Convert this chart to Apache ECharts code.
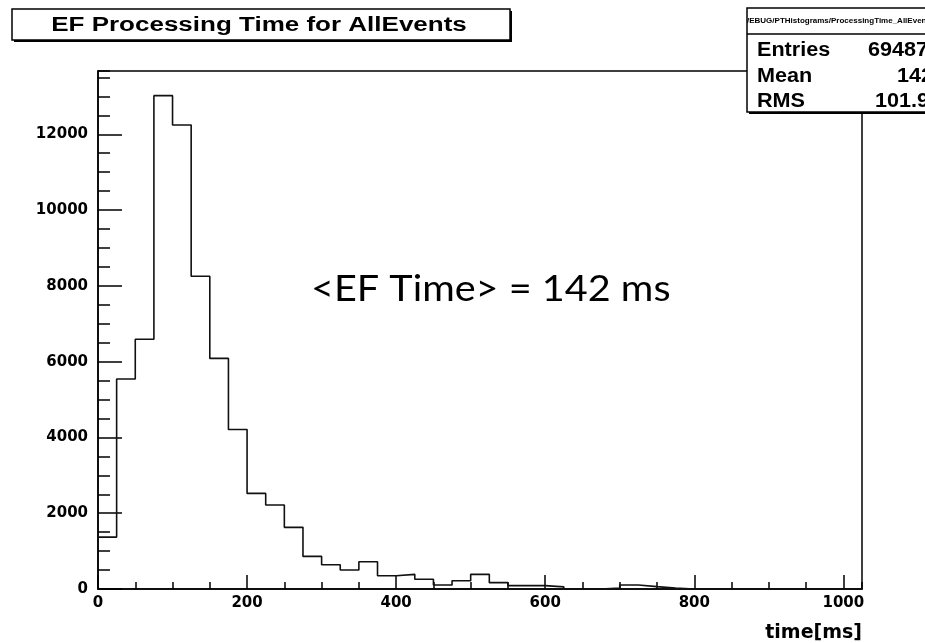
<!DOCTYPE html>
<html>
<head>
<meta charset="utf-8">
<title>EF Processing Time for AllEvents</title>
<script src="https://cdn.jsdelivr.net/npm/echarts@6/dist/echarts.min.js"></script>
<style>
  html, body { margin: 0; padding: 0; background: #fff; }
  #chart { width: 925px; height: 643px; }
</style>
</head>
<body>
<div id="chart"></div>
<script>
// histogram: 41 bins of 25 ms, from 0 to 1025 ms
const binWidth = 25
const binCounts = [
  1370, 5540, 6590, 13020, 12245, 8254, 6085, 4211, 2523, 2215,
  1627, 860, 640, 501, 720, 351, 387, 256, 106, 219,
  387, 167, 88, 88, 55, 0, 0, 22, 106, 62,
  22, 0, 0, 0, 0, 0, 0, 0, 0, 0,
  0,
]
const xMax = binCounts.length * binWidth
const yMax = 13670

// tick steps (major / minor)
const xMajorStep = 200
const xMinorStep = 50
const yMajorStep = 2000
const yMinorStep = 500

// text
const titleText = 'EF Processing Time for AllEvents'
const xAxisName = 'time[ms]'
const noteText = '<EF Time> = 142 ms'
const statsPath = '/EBUG/PTHistograms/ProcessingTime_AllEvents'
const statsLabels = ['Entries', 'Mean', 'RMS']
const statsValues = ['69487', '142', '101.9']

const ROOT_FONT = '"Liberation Sans", Arial, sans-serif'
const LABEL_FONT = '"DejaVu Sans", sans-serif'

// step points: left edge of every bin, plus closing right edge
const histData = binCounts.map((v, i) => [i * binWidth, v])
histData.push([xMax, binCounts[binCounts.length - 1]])

const chart = echarts.init(document.getElementById('chart'), null, { renderer: 'canvas' })

const statsRowY = [50, 76, 101]
const statsValueX = [868, 897, 875]

const graphic = [
  // title box with ROOT-style drop shadow
  { type: 'rect', z: 100, shape: { x: 14, y: 11, width: 498, height: 31 }, style: { fill: '#000' } },
  { type: 'rect', z: 101, shape: { x: 12, y: 9, width: 498, height: 31 }, style: { fill: '#fff', stroke: '#000', lineWidth: 1.5 } },
  {
    type: 'text', z: 102, x: 259, y: 25, scaleX: 1.3,
    style: { text: titleText, align: 'center', verticalAlign: 'middle', font: 'bold 20px ' + ROOT_FONT, fill: '#000' },
  },
  // stats box
  { type: 'rect', z: 100, shape: { x: 749, y: 10, width: 200, height: 104 }, style: { fill: '#000' } },
  { type: 'rect', z: 101, shape: { x: 747, y: 8, width: 200, height: 104 }, style: { fill: '#fff', stroke: '#000', lineWidth: 1.5 } },
  { type: 'line', z: 102, shape: { x1: 747, y1: 34, x2: 947, y2: 34 }, style: { stroke: '#000', lineWidth: 1.5 } },
  {
    type: 'text', z: 102, x: 747, y: 21,
    style: { text: statsPath, align: 'left', verticalAlign: 'middle', font: 'bold 8px ' + ROOT_FONT, fill: '#000' },
  },
  // annotation
  {
    type: 'text', z: 102, x: 311, y: 289, scaleX: 1.1,
    style: { text: noteText, align: 'left', verticalAlign: 'middle', font: '36px Lato, sans-serif', fill: '#000' },
  },
]

statsLabels.forEach((label, i) => {
  graphic.push({
    type: 'text', z: 102, x: 757, y: statsRowY[i], scaleX: 1.08,
    style: { text: label, align: 'left', verticalAlign: 'middle', font: 'bold 20px ' + ROOT_FONT, fill: '#000' },
  })
  graphic.push({
    type: 'text', z: 102, x: statsValueX[i], y: statsRowY[i], scaleX: 1.08,
    style: { text: statsValues[i], align: 'left', verticalAlign: 'middle', font: 'bold 20px ' + ROOT_FONT, fill: '#000' },
  })
})

const axisText = {
  color: '#000', fontFamily: LABEL_FONT, fontWeight: 'bold', fontSize: 15,
  formatter: (v) => String(v),
}

chart.setOption({
  animation: false,
  backgroundColor: '#fff',
  grid: {
    left: 98, right: 63, top: 71, bottom: 54,
    containLabel: false,
    outerBoundsMode: 'none',
    show: true,
    borderColor: '#000',
    borderWidth: 1.5,
    backgroundColor: 'transparent',
  },
  xAxis: [
    {
      type: 'value', min: 0, max: xMax, interval: xMajorStep,
      position: 'bottom',
      name: xAxisName,
      nameLocation: 'end',
      nameGap: 0,
      nameTextStyle: {
        color: '#000', fontFamily: LABEL_FONT, fontWeight: 'bold', fontSize: 19,
        align: 'right', verticalAlign: 'top', padding: [35, 0, 0, 0],
      },
      axisLine: { show: true, onZero: false, lineStyle: { color: '#000', width: 1.5 } },
      axisTick: { show: true, inside: true, length: 14, lineStyle: { color: '#000', width: 1.5 } },
      minorTick: { show: false },
      axisLabel: { ...axisText, margin: 7, showMaxLabel: false },
      splitLine: { show: false },
    },
    {
      // minor ticks only
      type: 'value', min: 0, max: xMax, interval: xMinorStep,
      position: 'bottom', offset: 0,
      axisLine: { show: false },
      axisTick: { show: true, inside: true, length: 7, lineStyle: { color: '#000', width: 1.5 } },
      axisLabel: { show: false },
      splitLine: { show: false },
    },
  ],
  yAxis: [
    {
      type: 'value', min: 0, max: yMax, interval: yMajorStep,
      position: 'left',
      axisLine: { show: true, onZero: false, lineStyle: { color: '#000', width: 1.5 } },
      axisTick: { show: true, inside: true, length: 24, lineStyle: { color: '#000', width: 1.5 } },
      minorTick: { show: false },
      axisLabel: { ...axisText, margin: 10, showMaxLabel: false },
      splitLine: { show: false },
    },
    {
      type: 'value', min: 0, max: yMax, interval: yMinorStep,
      position: 'left', offset: 0,
      axisLine: { show: false },
      axisTick: { show: true, inside: true, length: 12, lineStyle: { color: '#000', width: 1.5 } },
      axisLabel: { show: false },
      splitLine: { show: false },
    },
  ],
  series: [
    {
      type: 'line',
      xAxisIndex: 0,
      yAxisIndex: 0,
      step: 'end',
      data: histData,
      showSymbol: false,
      symbol: 'none',
      lineStyle: { color: '#111', width: 1.6 },
      z: 5,
    },
  ],
  graphic,
})
</script>
</body>
</html>
